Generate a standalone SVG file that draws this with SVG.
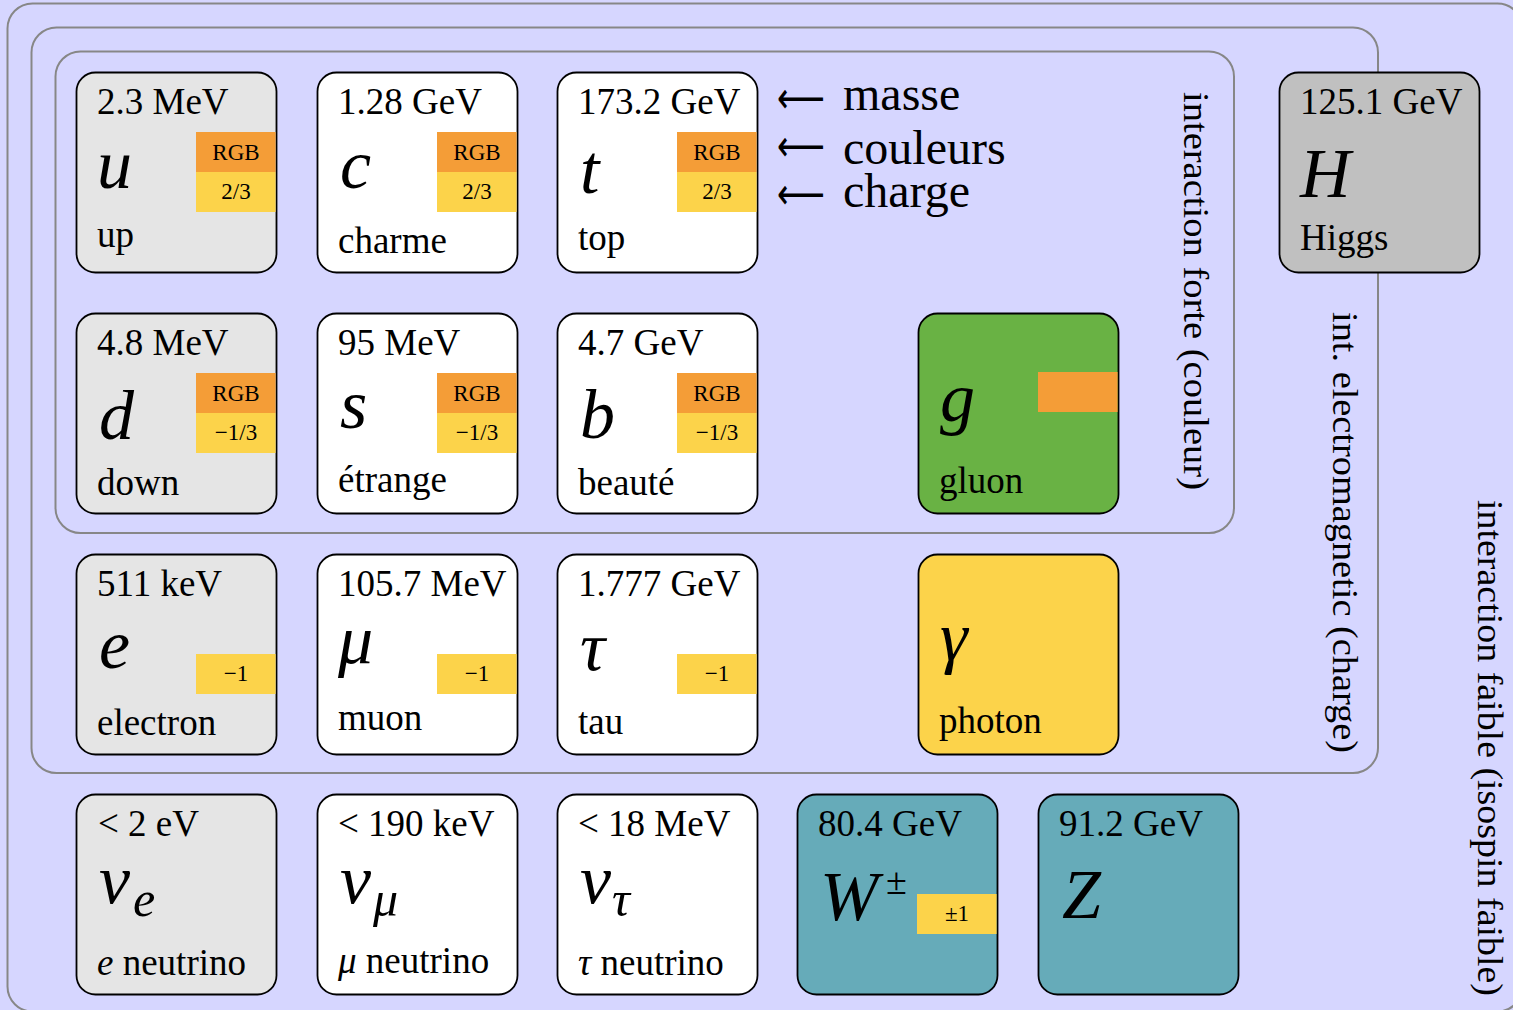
<svg xmlns="http://www.w3.org/2000/svg" width="1513" height="1010" viewBox="0 0 1513 1010">
<style>
text{font-family:"Liberation Serif","Times New Roman",serif;fill:#000}
.m{font-size:37px}
.n{font-size:37px}
.s{font-size:70px;font-style:italic}
.sub{font-size:50px;font-style:italic}
.q{font-size:23px;text-anchor:middle}
.leg{font-size:48px}
.arr{font-family:"DejaVu Sans",sans-serif;font-size:44px}
.v{font-size:36px}
.frame{fill:none;stroke:#878787;stroke-width:2}
.box{stroke:#000;stroke-width:1.8}
.gray{fill:#e5e5e5}
.white{fill:#fff}
.higgs{fill:#c0c0c0}
.green{fill:#69b244}
.teal{fill:#66abb9}
.yel{fill:#fcd34a}
.org{fill:#f49d37}
</style>
<rect x="0" y="0" width="1513" height="1010" fill="#d6d6ff"/>
<g id="frames">
<rect class="frame" x="7.5" y="3.5" width="1515" height="1008" rx="25"/>
<rect class="frame" x="31.5" y="27.5" width="1346.5" height="745.5" rx="25"/>
<rect class="frame" x="55.5" y="51.5" width="1178.5" height="481.5" rx="25"/>
</g>
<g id="labels">
<text class="v" transform="translate(1184,92) rotate(90)" textLength="398" lengthAdjust="spacingAndGlyphs">interaction forte (couleur)</text>
<text class="v" transform="translate(1333,312) rotate(90)" textLength="441" lengthAdjust="spacingAndGlyphs">int. electromagnetic (charge)</text>
<text class="v" transform="translate(1478,500) rotate(90)" textLength="496" lengthAdjust="spacingAndGlyphs">interaction faible (isospin faible)</text>
</g>
<g id="legend">
<text class="arr" x="777" y="113" textLength="48" lengthAdjust="spacingAndGlyphs">⟵</text>
<text class="arr" x="777" y="161" textLength="48" lengthAdjust="spacingAndGlyphs">⟵</text>
<text class="arr" x="777" y="209" textLength="48" lengthAdjust="spacingAndGlyphs">⟵</text>
<text class="leg" x="843" y="110">masse</text>
<text class="leg" x="843" y="164">couleurs</text>
<text class="leg" x="843" y="207">charge</text>
</g>
<g id="up">
<rect class="box gray" x="76.5" y="72.5" width="200" height="200" rx="19"/>
<rect class="org" x="196" y="132" width="79.6" height="40"/><rect class="yel" x="196" y="172" width="79.6" height="40"/>
<text class="q" x="236" y="160">RGB</text><text class="q" x="236" y="199">2/3</text>
<text class="m" x="97" y="114">2.3 MeV</text><text class="s" x="97" y="188">u</text><text class="n" x="97" y="247">up</text>
</g>
<g id="charm">
<rect class="box white" x="317.5" y="72.5" width="200" height="200" rx="19"/>
<rect class="org" x="437" y="132" width="79.6" height="40"/><rect class="yel" x="437" y="172" width="79.6" height="40"/>
<text class="q" x="477" y="160">RGB</text><text class="q" x="477" y="199">2/3</text>
<text class="m" x="338" y="114">1.28 GeV</text><text class="s" x="340" y="188">c</text><text class="n" x="338" y="253">charme</text>
</g>
<g id="top">
<rect class="box white" x="557.5" y="72.5" width="200" height="200" rx="19"/>
<rect class="org" x="677" y="132" width="79.6" height="40"/><rect class="yel" x="677" y="172" width="79.6" height="40"/>
<text class="q" x="717" y="160">RGB</text><text class="q" x="717" y="199">2/3</text>
<text class="m" x="578" y="114">173.2 GeV</text><text class="s" x="580" y="193">t</text><text class="n" x="578" y="250">top</text>
</g>
<g id="higgs">
<rect class="box higgs" x="1279.5" y="72.5" width="200" height="200" rx="19"/>
<text class="m" x="1300" y="114">125.1 GeV</text><text class="s" x="1300" y="197">H</text><text class="n" x="1300" y="250">Higgs</text>
</g>
<g id="down">
<rect class="box gray" x="76.5" y="313.5" width="200" height="200" rx="19"/>
<rect class="org" x="196" y="373" width="79.6" height="40"/><rect class="yel" x="196" y="413" width="79.6" height="40"/>
<text class="q" x="236" y="401">RGB</text><text class="q" x="236" y="440">−1/3</text>
<text class="m" x="97" y="355">4.8 MeV</text><text class="s" x="99" y="439">d</text><text class="n" x="97" y="495">down</text>
</g>
<g id="strange">
<rect class="box white" x="317.5" y="313.5" width="200" height="200" rx="19"/>
<rect class="org" x="437" y="373" width="79.6" height="40"/><rect class="yel" x="437" y="413" width="79.6" height="40"/>
<text class="q" x="477" y="401">RGB</text><text class="q" x="477" y="440">−1/3</text>
<text class="m" x="338" y="355">95 MeV</text><text class="s" x="340" y="428">s</text><text class="n" x="338" y="492">étrange</text>
</g>
<g id="bottom">
<rect class="box white" x="557.5" y="313.5" width="200" height="200" rx="19"/>
<rect class="org" x="677" y="373" width="79.6" height="40"/><rect class="yel" x="677" y="413" width="79.6" height="40"/>
<text class="q" x="717" y="401">RGB</text><text class="q" x="717" y="440">−1/3</text>
<text class="m" x="578" y="355">4.7 GeV</text><text class="s" x="580" y="438">b</text><text class="n" x="578" y="495">beauté</text>
</g>
<g id="gluon">
<rect class="box green" x="918.5" y="313.5" width="200" height="200" rx="19"/>
<rect class="org" x="1038" y="372" width="79.6" height="40"/>
<text class="s" x="940" y="421">g</text><text class="n" x="939" y="493">gluon</text>
</g>
<g id="electron">
<rect class="box gray" x="76.5" y="554.5" width="200" height="200" rx="19"/>
<rect class="yel" x="196" y="654" width="79.6" height="40"/>
<text class="q" x="236" y="681">−1</text>
<text class="m" x="97" y="596">511 keV</text><text class="s" x="99" y="668">e</text><text class="n" x="97" y="735">electron</text>
</g>
<g id="muon">
<rect class="box white" x="317.5" y="554.5" width="200" height="200" rx="19"/>
<rect class="yel" x="437" y="654" width="79.6" height="40"/>
<text class="q" x="477" y="681">−1</text>
<text class="m" x="338" y="596">105.7 MeV</text><text class="s" x="338" y="663">μ</text><text class="n" x="338" y="730">muon</text>
</g>
<g id="tau">
<rect class="box white" x="557.5" y="554.5" width="200" height="200" rx="19"/>
<rect class="yel" x="677" y="654" width="79.6" height="40"/>
<text class="q" x="717" y="681">−1</text>
<text class="m" x="578" y="596">1.777 GeV</text><text class="s" x="580" y="670">τ</text><text class="n" x="578" y="734">tau</text>
</g>
<g id="photon">
<rect class="box yel" x="918.5" y="554.5" width="200" height="200" rx="19"/>
<text class="s" x="940" y="660">γ</text><text class="n" x="939" y="733">photon</text>
</g>
<g id="nu-e">
<rect class="box gray" x="76.5" y="794.5" width="200" height="200" rx="19"/>
<text class="m" x="98" y="836">&lt; 2 eV</text><text class="s" x="99" y="903">ν</text><text class="sub" x="133" y="916">e</text>
<text class="n" x="97" y="975"><tspan font-style="italic">e</tspan> neutrino</text>
</g>
<g id="nu-mu">
<rect class="box white" x="317.5" y="794.5" width="200" height="200" rx="19"/>
<text class="m" x="338" y="836">&lt; 190 keV</text><text class="s" x="340" y="903">ν</text><text class="sub" x="373" y="916">μ</text>
<text class="n" x="338" y="973"><tspan font-style="italic">μ</tspan> neutrino</text>
</g>
<g id="nu-tau">
<rect class="box white" x="557.5" y="794.5" width="200" height="200" rx="19"/>
<text class="m" x="578" y="836">&lt; 18 MeV</text><text class="s" x="580" y="903">ν</text><text class="sub" x="612" y="916">τ</text>
<text class="n" x="578" y="975"><tspan font-style="italic">τ</tspan> neutrino</text>
</g>
<g id="w-boson">
<rect class="box teal" x="797.5" y="794.5" width="200" height="200" rx="19"/>
<rect class="yel" x="917" y="894" width="79.6" height="40"/>
<text class="q" x="957" y="921">±1</text>
<text class="m" x="818" y="836">80.4 GeV</text><text class="s" x="820" y="920">W</text><text x="886" y="894" font-size="38px">±</text>
</g>
<g id="z-boson">
<rect class="box teal" x="1038.5" y="794.5" width="200" height="200" rx="19"/>
<text class="m" x="1059" y="836">91.2 GeV</text><text class="s" x="1062" y="918">Z</text>
</g>
</svg>
